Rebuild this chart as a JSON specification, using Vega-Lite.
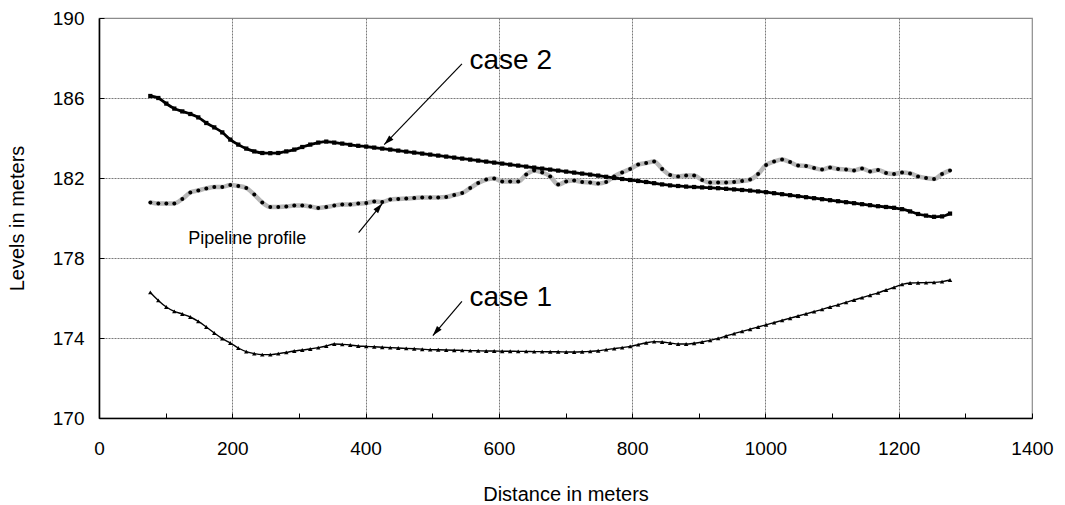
{
  "$schema": "https://vega.github.io/schema/vega-lite/v6.json",
  "width": 933,
  "height": 400,
  "autosize": {"type": "none"},
  "padding": {"left": 99, "top": 18, "right": 33, "bottom": 87},
  "background": "white",
  "config": {
    "font": "Liberation Sans",
    "view": {"stroke": "#8c8c8c", "strokeWidth": 1.2},
    "axis": {
      "domainColor": "black",
      "domainWidth": 1.6,
      "tickColor": "black",
      "tickWidth": 1,
      "tickSize": -5,
      "labelColor": "black",
      "labelFont": "Liberation Sans",
      "labelFontSize": 19,
      "titleColor": "black",
      "titleFont": "Liberation Sans",
      "titleFontSize": 20,
      "titleFontWeight": "normal",
      "labelOverlap": false,
      "labelFlush": false,
      "grid": true,
      "gridColor": "#7a7a7a",
      "gridDash": [2, 1],
      "gridWidth": 1
    }
  },
  "datasets": {
    "levels": [
      {"d": 77, "case1": 176.28, "case2": 186.1, "pipeline": 180.78},
      {"d": 89, "case1": 175.88, "case2": 186.0, "pipeline": 180.72},
      {"d": 101, "case1": 175.55, "case2": 185.72, "pipeline": 180.73},
      {"d": 113, "case1": 175.33, "case2": 185.47, "pipeline": 180.73},
      {"d": 125, "case1": 175.2, "case2": 185.33, "pipeline": 180.95},
      {"d": 137, "case1": 175.05, "case2": 185.2, "pipeline": 181.28},
      {"d": 149, "case1": 174.83, "case2": 185.03, "pipeline": 181.38},
      {"d": 161, "case1": 174.55, "case2": 184.75, "pipeline": 181.48},
      {"d": 173, "case1": 174.25, "case2": 184.53, "pipeline": 181.55},
      {"d": 185, "case1": 173.97, "case2": 184.28, "pipeline": 181.55},
      {"d": 197, "case1": 173.75, "case2": 183.92, "pipeline": 181.65},
      {"d": 209, "case1": 173.5, "case2": 183.67, "pipeline": 181.6},
      {"d": 221, "case1": 173.32, "case2": 183.47, "pipeline": 181.5},
      {"d": 233, "case1": 173.22, "case2": 183.33, "pipeline": 181.17},
      {"d": 245, "case1": 173.17, "case2": 183.25, "pipeline": 180.78},
      {"d": 257, "case1": 173.17, "case2": 183.24, "pipeline": 180.55},
      {"d": 269, "case1": 173.22, "case2": 183.25, "pipeline": 180.55},
      {"d": 281, "case1": 173.28, "case2": 183.33, "pipeline": 180.57},
      {"d": 293, "case1": 173.35, "case2": 183.42, "pipeline": 180.62},
      {"d": 305, "case1": 173.4, "case2": 183.55, "pipeline": 180.62},
      {"d": 317, "case1": 173.45, "case2": 183.67, "pipeline": 180.58},
      {"d": 329, "case1": 173.52, "case2": 183.77, "pipeline": 180.5},
      {"d": 341, "case1": 173.6, "case2": 183.82, "pipeline": 180.55},
      {"d": 353, "case1": 173.7, "case2": 183.77, "pipeline": 180.62},
      {"d": 365, "case1": 173.68, "case2": 183.72, "pipeline": 180.68},
      {"d": 377, "case1": 173.65, "case2": 183.66, "pipeline": 180.68},
      {"d": 389, "case1": 173.6, "case2": 183.61, "pipeline": 180.72},
      {"d": 401, "case1": 173.58, "case2": 183.57, "pipeline": 180.75},
      {"d": 413, "case1": 173.56, "case2": 183.52, "pipeline": 180.83},
      {"d": 425, "case1": 173.54, "case2": 183.47, "pipeline": 180.8},
      {"d": 437, "case1": 173.52, "case2": 183.42, "pipeline": 180.92},
      {"d": 449, "case1": 173.5, "case2": 183.37, "pipeline": 180.95},
      {"d": 461, "case1": 173.48, "case2": 183.32, "pipeline": 180.97},
      {"d": 473, "case1": 173.46, "case2": 183.27, "pipeline": 181.0},
      {"d": 485, "case1": 173.44, "case2": 183.22, "pipeline": 181.03},
      {"d": 497, "case1": 173.42, "case2": 183.17, "pipeline": 181.03},
      {"d": 509, "case1": 173.41, "case2": 183.12, "pipeline": 181.03},
      {"d": 521, "case1": 173.4, "case2": 183.07, "pipeline": 181.05},
      {"d": 533, "case1": 173.39, "case2": 183.02, "pipeline": 181.15},
      {"d": 545, "case1": 173.38, "case2": 182.97, "pipeline": 181.25},
      {"d": 557, "case1": 173.37, "case2": 182.92, "pipeline": 181.5},
      {"d": 569, "case1": 173.36, "case2": 182.87, "pipeline": 181.75},
      {"d": 581, "case1": 173.35, "case2": 182.82, "pipeline": 181.92},
      {"d": 593, "case1": 173.35, "case2": 182.77, "pipeline": 181.97},
      {"d": 605, "case1": 173.34, "case2": 182.72, "pipeline": 181.83},
      {"d": 617, "case1": 173.34, "case2": 182.67, "pipeline": 181.83},
      {"d": 629, "case1": 173.33, "case2": 182.62, "pipeline": 181.83},
      {"d": 641, "case1": 173.33, "case2": 182.57, "pipeline": 182.17},
      {"d": 653, "case1": 173.32, "case2": 182.52, "pipeline": 182.38},
      {"d": 665, "case1": 173.32, "case2": 182.47, "pipeline": 182.28},
      {"d": 677, "case1": 173.31, "case2": 182.42, "pipeline": 182.08},
      {"d": 689, "case1": 173.31, "case2": 182.37, "pipeline": 181.67},
      {"d": 701, "case1": 173.3, "case2": 182.32, "pipeline": 181.83},
      {"d": 713, "case1": 173.3, "case2": 182.27, "pipeline": 181.88},
      {"d": 725, "case1": 173.31, "case2": 182.22, "pipeline": 181.8},
      {"d": 737, "case1": 173.33, "case2": 182.17, "pipeline": 181.78},
      {"d": 749, "case1": 173.36, "case2": 182.12, "pipeline": 181.72},
      {"d": 761, "case1": 173.42, "case2": 182.06, "pipeline": 181.8},
      {"d": 773, "case1": 173.47, "case2": 182.0, "pipeline": 182.08},
      {"d": 785, "case1": 173.52, "case2": 181.95, "pipeline": 182.28},
      {"d": 797, "case1": 173.58, "case2": 181.9, "pipeline": 182.45},
      {"d": 809, "case1": 173.67, "case2": 181.85, "pipeline": 182.67},
      {"d": 821, "case1": 173.76, "case2": 181.8, "pipeline": 182.75},
      {"d": 833, "case1": 173.82, "case2": 181.74, "pipeline": 182.83},
      {"d": 845, "case1": 173.8, "case2": 181.68, "pipeline": 182.45},
      {"d": 857, "case1": 173.75, "case2": 181.63, "pipeline": 182.15},
      {"d": 869, "case1": 173.7, "case2": 181.6, "pipeline": 182.08},
      {"d": 881, "case1": 173.7, "case2": 181.57, "pipeline": 182.12},
      {"d": 893, "case1": 173.74, "case2": 181.55, "pipeline": 182.12},
      {"d": 905, "case1": 173.8, "case2": 181.53, "pipeline": 181.9},
      {"d": 917, "case1": 173.88, "case2": 181.51, "pipeline": 181.77},
      {"d": 929, "case1": 173.98, "case2": 181.49, "pipeline": 181.77},
      {"d": 941, "case1": 174.1, "case2": 181.46, "pipeline": 181.77},
      {"d": 953, "case1": 174.22, "case2": 181.43, "pipeline": 181.8},
      {"d": 965, "case1": 174.33, "case2": 181.4, "pipeline": 181.85},
      {"d": 977, "case1": 174.44, "case2": 181.37, "pipeline": 181.92},
      {"d": 989, "case1": 174.55, "case2": 181.33, "pipeline": 182.2},
      {"d": 1001, "case1": 174.66, "case2": 181.29, "pipeline": 182.65},
      {"d": 1013, "case1": 174.77, "case2": 181.24, "pipeline": 182.82},
      {"d": 1025, "case1": 174.88, "case2": 181.19, "pipeline": 182.92},
      {"d": 1037, "case1": 174.99, "case2": 181.14, "pipeline": 182.8},
      {"d": 1049, "case1": 175.1, "case2": 181.09, "pipeline": 182.62},
      {"d": 1061, "case1": 175.21, "case2": 181.04, "pipeline": 182.6},
      {"d": 1073, "case1": 175.32, "case2": 180.99, "pipeline": 182.5},
      {"d": 1085, "case1": 175.43, "case2": 180.94, "pipeline": 182.42},
      {"d": 1097, "case1": 175.55, "case2": 180.89, "pipeline": 182.53},
      {"d": 1109, "case1": 175.66, "case2": 180.84, "pipeline": 182.45},
      {"d": 1121, "case1": 175.78, "case2": 180.79, "pipeline": 182.43},
      {"d": 1133, "case1": 175.9, "case2": 180.74, "pipeline": 182.38},
      {"d": 1145, "case1": 176.02, "case2": 180.69, "pipeline": 182.48},
      {"d": 1157, "case1": 176.14, "case2": 180.64, "pipeline": 182.33},
      {"d": 1169, "case1": 176.26, "case2": 180.59, "pipeline": 182.4},
      {"d": 1181, "case1": 176.4, "case2": 180.55, "pipeline": 182.25},
      {"d": 1193, "case1": 176.53, "case2": 180.51, "pipeline": 182.2},
      {"d": 1205, "case1": 176.68, "case2": 180.44, "pipeline": 182.27},
      {"d": 1217, "case1": 176.75, "case2": 180.33, "pipeline": 182.23},
      {"d": 1229, "case1": 176.76, "case2": 180.2, "pipeline": 182.08},
      {"d": 1241, "case1": 176.77, "case2": 180.12, "pipeline": 182.0},
      {"d": 1253, "case1": 176.78, "case2": 180.06, "pipeline": 181.95},
      {"d": 1265, "case1": 176.82, "case2": 180.08, "pipeline": 182.2},
      {"d": 1277, "case1": 176.9, "case2": 180.22, "pipeline": 182.38}
    ],
    "notes": [
      {"id": "c2", "label": "case 2", "d": 556, "v": 187.46},
      {"id": "c1", "label": "case 1", "d": 556, "v": 175.58},
      {"id": "pp", "label": "Pipeline profile", "d": 134, "v": 178.71}
    ],
    "arrows": [
      {"id": "c2", "d": 544.6, "v": 187.71, "d2": 428, "v2": 183.67},
      {"id": "pp", "d": 389.6, "v": 179.27, "d2": 425, "v2": 180.72},
      {"id": "c1", "d": 544.6, "v": 175.83, "d2": 501, "v2": 174.12}
    ]
  },
  "encoding": {
    "x": {
      "type": "quantitative",
      "scale": {"domain": [0, 1400], "nice": false, "zero": false}
    },
    "y": {
      "type": "quantitative",
      "scale": {"domain": [170, 190], "nice": false, "zero": false}
    }
  },
  "layer": [
    {
      "data": {"name": "levels"},
      "mark": {"type": "line", "color": "#b8b8b8", "strokeWidth": 4.5, "interpolate": "monotone"},
      "encoding": {
        "x": {
          "field": "d",
          "type": "quantitative",
          "title": "Distance in meters",
          "axis": {
            "values": [0, 50, 100, 150, 200, 250, 300, 350, 400, 450, 500, 550, 600, 650, 700, 750, 800, 850, 900, 950, 1000, 1050, 1100, 1150, 1200, 1250, 1300, 1350, 1400],
            "format": "d",
            "labelExpr": "datum.value % 200 === 0 ? datum.label : ''",
            "gridOpacity": {"condition": {"test": "datum.value % 200 === 0 && datum.value > 0 && datum.value < 1400", "value": 1}, "value": 0},
            "labelPadding": 26,
            "titlePadding": 26
          }
        },
        "y": {
          "field": "pipeline",
          "type": "quantitative",
          "title": "Levels in meters",
          "axis": {
            "values": [170, 170.5, 171, 171.5, 172, 172.5, 173, 173.5, 174, 174.5, 175, 175.5, 176, 176.5, 177, 177.5, 178, 178.5, 179, 179.5, 180, 180.5, 181, 181.5, 182, 182.5, 183, 183.5, 184, 184.5, 185, 185.5, 186, 186.5, 187, 187.5, 188, 188.5, 189, 189.5, 190],
            "format": "d",
            "labelExpr": "(datum.value - 170) % 4 === 0 ? datum.label : ''",
            "gridOpacity": {"condition": {"test": "(datum.value - 170) % 4 === 0 && datum.value > 170 && datum.value < 190", "value": 1}, "value": 0},
            "labelPadding": 20,
            "titlePadding": 25
          }
        }
      }
    },
    {
      "data": {"name": "levels"},
      "mark": {"type": "point", "shape": "circle", "filled": true, "color": "black", "size": 16, "opacity": 1},
      "encoding": {"x": {"field": "d"}, "y": {"field": "pipeline"}}
    },
    {
      "data": {"name": "levels"},
      "mark": {"type": "line", "color": "black", "strokeWidth": 2.8, "interpolate": "monotone"},
      "encoding": {"x": {"field": "d"}, "y": {"field": "case2"}}
    },
    {
      "data": {"name": "levels"},
      "mark": {"type": "point", "shape": "square", "filled": true, "color": "black", "size": 18, "opacity": 1},
      "encoding": {"x": {"field": "d"}, "y": {"field": "case2"}}
    },
    {
      "data": {"name": "levels"},
      "mark": {"type": "line", "color": "black", "strokeWidth": 1.4, "interpolate": "monotone"},
      "encoding": {"x": {"field": "d"}, "y": {"field": "case1"}}
    },
    {
      "data": {"name": "levels"},
      "mark": {"type": "point", "shape": "triangle-up", "filled": true, "color": "black", "size": 20, "opacity": 1},
      "encoding": {"x": {"field": "d"}, "y": {"field": "case1"}}
    },
    {
      "data": {"name": "arrows"},
      "mark": {"type": "rule", "color": "black", "strokeWidth": 1.2},
      "encoding": {"x": {"field": "d"}, "y": {"field": "v"}, "x2": {"field": "d2"}, "y2": {"field": "v2"}}
    },
    {
      "data": {"name": "arrows"},
      "transform": [{"filter": "datum.id === 'c2'"}],
      "mark": {"type": "point", "shape": "M0,0L0.6,2L-0.6,2Z", "filled": true, "color": "black", "size": 100, "opacity": 1, "angle": 225},
      "encoding": {"x": {"field": "d2"}, "y": {"field": "v2"}}
    },
    {
      "data": {"name": "arrows"},
      "transform": [{"filter": "datum.id === 'pp'"}],
      "mark": {"type": "point", "shape": "M0,0L0.6,2L-0.6,2Z", "filled": true, "color": "black", "size": 100, "opacity": 1, "angle": 40},
      "encoding": {"x": {"field": "d2"}, "y": {"field": "v2"}}
    },
    {
      "data": {"name": "arrows"},
      "transform": [{"filter": "datum.id === 'c1'"}],
      "mark": {"type": "point", "shape": "M0,0L0.6,2L-0.6,2Z", "filled": true, "color": "black", "size": 100, "opacity": 1, "angle": 220},
      "encoding": {"x": {"field": "d2"}, "y": {"field": "v2"}}
    },
    {
      "data": {"name": "notes"},
      "transform": [{"filter": "datum.id !== 'pp'"}],
      "mark": {"type": "text", "align": "left", "baseline": "alphabetic", "font": "Liberation Sans", "fontSize": 28, "color": "black"},
      "encoding": {"x": {"field": "d"}, "y": {"field": "v"}, "text": {"field": "label"}}
    },
    {
      "data": {"name": "notes"},
      "transform": [{"filter": "datum.id === 'pp'"}],
      "mark": {"type": "text", "align": "left", "baseline": "alphabetic", "font": "Liberation Sans", "fontSize": 18, "color": "black"},
      "encoding": {"x": {"field": "d"}, "y": {"field": "v"}, "text": {"field": "label"}}
    }
  ]
}
